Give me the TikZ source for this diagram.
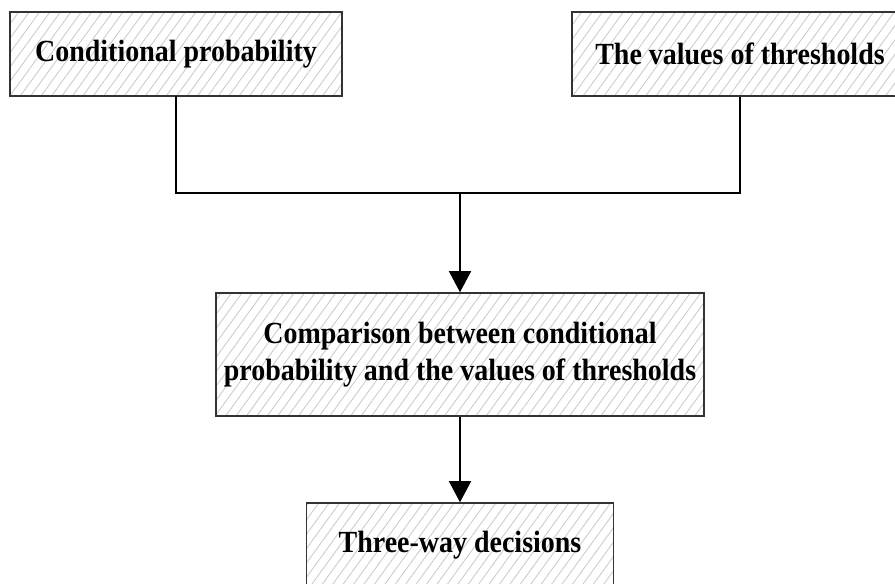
\documentclass[tikz,border=0pt]{standalone}
\usepackage{fontspec}
\setmainfont[FakeStretch=0.91]{Liberation Serif}
\usetikzlibrary{arrows.meta,patterns.meta}
\tikzset{
  hatchbox/.style={draw=black!80,line width=0.9pt,fill=white,
    preaction={fill=white},
    pattern={Lines[angle=54,distance=4.8pt,line width=0.5pt]},pattern color=black!20,
    minimum height=1.68cm,inner sep=0pt,align=center,
    font=\fontsize{17.5}{21}\selectfont\bfseries},
  flow/.style={line width=0.8pt,-{Triangle[width=0.44cm,length=0.42cm]}}
}
\begin{document}
\begin{tikzpicture}[x=0.02cm,y=-0.02cm]
  \clip (0,0) rectangle (895,583);
  \fill[white] (0,0) rectangle (895,583);

  % boxes
  \node[hatchbox,minimum width=6.64cm] (cp) at (176,54) {Conditional probability};
  \node[hatchbox,minimum width=6.72cm] (vt) at (740,54) {The values of thresholds};
  \node[hatchbox,minimum width=9.76cm,minimum height=2.46cm] (cmp) at (460,354.5)
    {Comparison between conditional\\probability and the values of thresholds};
  \node[hatchbox,minimum width=6.14cm] (twd) at (460,545) {Three-way decisions};

  % connectors
  \coordinate (J) at (460,193);
  \draw[line width=0.8pt] (cp.south) |- (J) -| (vt.south);
  \draw[flow] (J) -- (cmp.north);
  \draw[flow] (cmp.south) -- (twd.north);
\end{tikzpicture}
\end{document}
